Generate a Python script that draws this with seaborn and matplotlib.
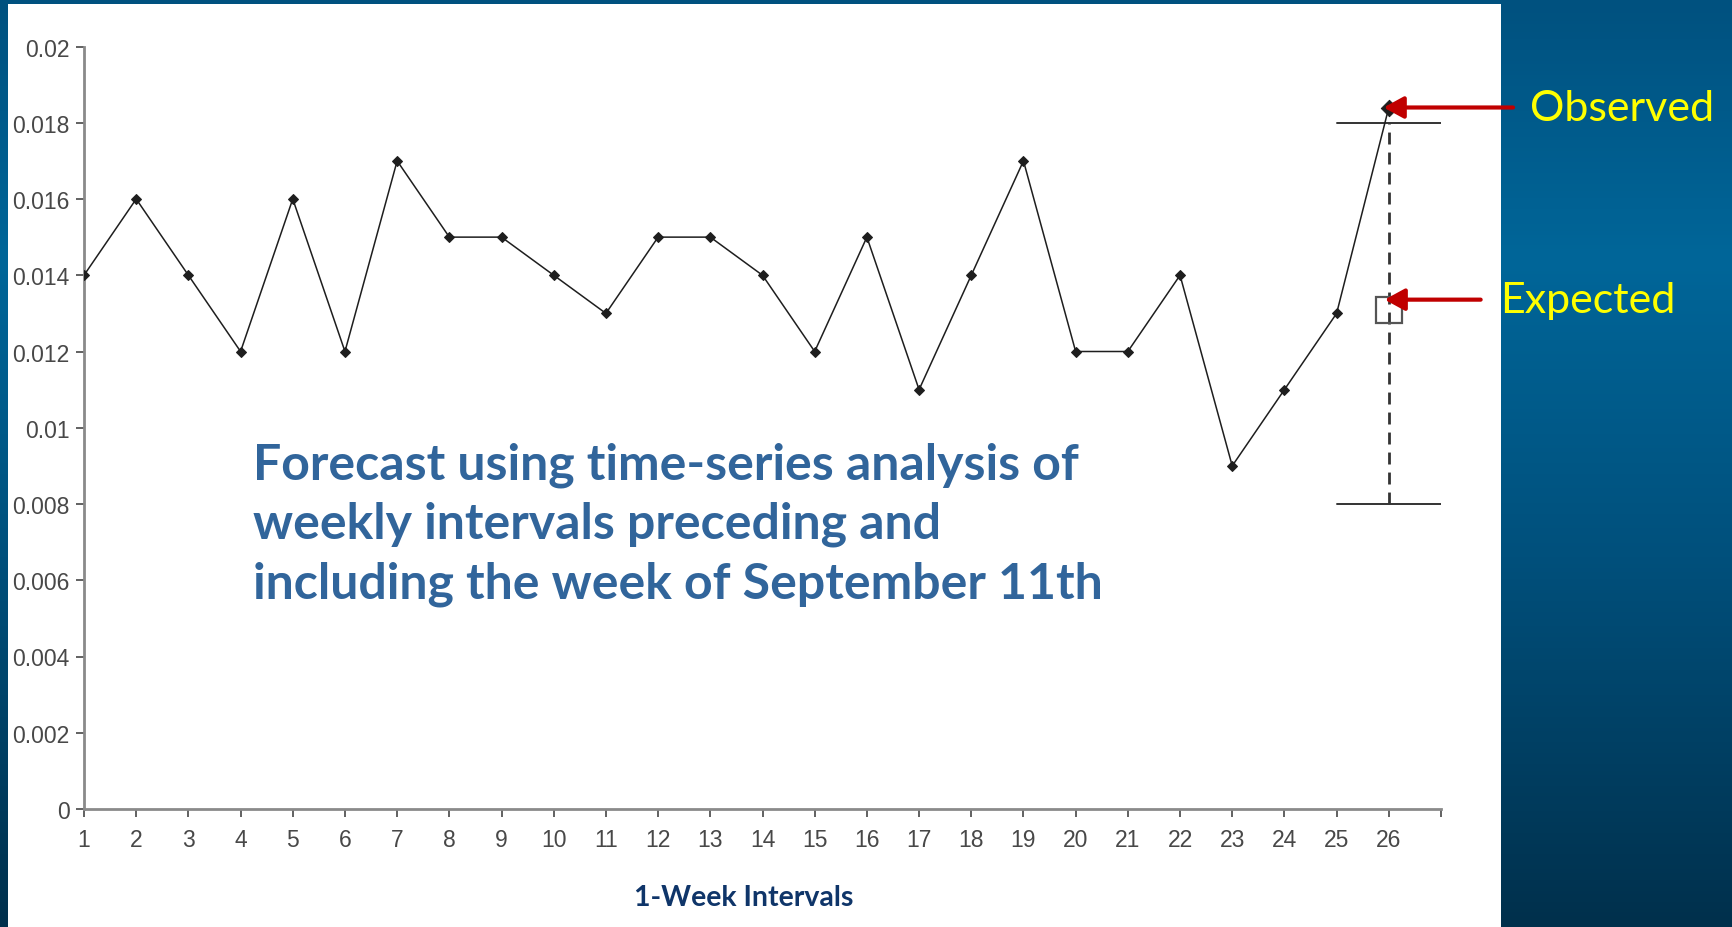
import numpy as np
import pandas as pd
import matplotlib
matplotlib.use("Agg")
import matplotlib.pyplot as plt
from matplotlib.colors import LinearSegmentedColormap
from matplotlib.patches import Rectangle
import seaborn as sns

# Weekly rates (weeks 1-26)
weeks = list(range(1, 27))
rates = [0.014, 0.016, 0.014, 0.012, 0.016, 0.012, 0.017, 0.015, 0.015, 0.014,
         0.013, 0.015, 0.015, 0.014, 0.012, 0.015, 0.011, 0.014, 0.017, 0.012,
         0.012, 0.014, 0.009, 0.011, 0.013, 0.0184]

# Forecast for week 26
forecast_week = 26
expected = 0.0131
upper_limit = 0.018
lower_limit = 0.008

y_ticks = [0, 0.002, 0.004, 0.006, 0.008, 0.01, 0.012, 0.014, 0.016, 0.018, 0.02]
y_tick_labels = ["0", "0.002", "0.004", "0.006", "0.008", "0.01", "0.012",
                 "0.014", "0.016", "0.018", "0.02"]
x_ticks = list(range(1, 28))
x_tick_labels = [str(w) for w in range(1, 27)] + [""]

sns.set_theme(style="white")
plt.rcParams["font.family"] = ["Liberation Sans", "DejaVu Sans"]

W, H = 1733, 928
fig = plt.figure(figsize=(W / 100, H / 100), dpi=100)

# slide background: vertical blue gradient
bg = fig.add_axes([0, 0, 1, 1], zorder=-10)
bg.set_axis_off()
cmap = LinearSegmentedColormap.from_list(
    "slide", [(0.0, "#00517f"), (0.28, "#006699"), (0.6, "#00507c"), (1.0, "#00304c")])
grad = np.linspace(0, 1, 256).reshape(-1, 1)
bg.imshow(grad, aspect="auto", cmap=cmap, extent=[0, 1, 0, 1], origin="upper")
bg.set_xlim(0, 1)
bg.set_ylim(0, 1)
# white panel holding the chart
bg.add_patch(Rectangle((8 / W, 0), (1501 - 8) / W, (H - 5) / H,
                       facecolor="white", edgecolor="none", zorder=2))

ax = fig.add_axes([84 / W, 118 / H, (1441 - 84) / W, (810 - 47.5) / H], zorder=1)
ax.set_facecolor("none")

df = pd.DataFrame({"week": weeks, "rate": rates})
sns.lineplot(data=df.iloc[:-1], x="week", y="rate", ax=ax, color="#1e1e1e",
             linewidth=1.1, marker="D", markersize=5, markeredgecolor="#1e1e1e",
             markerfacecolor="#1e1e1e", zorder=5)
sns.lineplot(data=df.iloc[-2:], x="week", y="rate", ax=ax, color="#1e1e1e",
             linewidth=1.1, zorder=5)
sns.scatterplot(x=[weeks[-1]], y=[rates[-1]], ax=ax, marker="D", s=70,
                color="#1e1e1e", edgecolor="#1e1e1e", zorder=6)

# forecast interval and expected value
ax.plot([forecast_week, forecast_week], [lower_limit, upper_limit], color="#333333",
        lw=2, linestyle=(0, (4.3, 2.9)), zorder=4)
ax.plot([forecast_week - 1, forecast_week + 1], [upper_limit, upper_limit],
        color="#333333", lw=1.4, zorder=4)
ax.plot([forecast_week - 1, forecast_week + 1], [lower_limit, lower_limit],
        color="#333333", lw=1.4, zorder=4)
ax.plot([forecast_week], [expected], marker="s", markersize=19, markerfacecolor="none",
        markeredgecolor="#555555", markeredgewidth=1.6, zorder=4)

ax.set_xlim(1, 27)
ax.set_ylim(0, 0.02)
ax.set_xticks(x_ticks)
ax.set_xticklabels(x_tick_labels)
ax.set_yticks(y_ticks)
ax.set_yticklabels(y_tick_labels)
ax.tick_params(axis="both", which="major", direction="out", length=6, width=1.3,
               color="#555555", labelcolor="#484848", labelsize=16.5, pad=8,
               bottom=True, left=True)
ax.tick_params(axis="y", pad=4.5)
for side in ("top", "right"):
    ax.spines[side].set_visible(False)
for side in ("left", "bottom"):
    ax.spines[side].set_color("#8a8a8a")
    ax.spines[side].set_linewidth(2)
ax.set_xlabel("1-Week Intervals", fontsize=20.5, fontweight="bold", color="#0f3569",
              family=["Lato", "DejaVu Sans"], labelpad=18)
ax.xaxis.set_label_coords(0.486, -0.098)
ax.set_ylabel("")

ax.text(4.24, 0.00965,
        "Forecast using time-series analysis of\nweekly intervals preceding and\n"
        "including the week of September 11th",
        fontsize=36, fontweight="bold", color="#31659b", family=["Lato", "DejaVu Sans"],
        va="top", ha="left", linespacing=1.38, zorder=7)

# callouts
arrow = dict(arrowstyle="-|>,head_length=0.55,head_width=0.3", color="#c00000",
             lw=3, shrinkA=0, shrinkB=0, mutation_scale=22)
ax.annotate("", xy=(25.9, rates[-1]), xytext=(28.38, rates[-1]),
            arrowprops=arrow, annotation_clip=False, zorder=8)
ax.annotate("", xy=(25.92, 0.01336), xytext=(27.76, 0.01336),
            arrowprops=arrow, annotation_clip=False, zorder=8)
ax.text(28.7, rates[-1], "Observed", color="#ffff00", fontsize=31,
        family=["Lato", "DejaVu Sans"], va="center", ha="left", clip_on=False)
ax.text(28.13, 0.01336, "Expected", color="#ffff00", fontsize=31,
        family=["Lato", "DejaVu Sans"], va="center", ha="left", clip_on=False)

fig.savefig("out.png", dpi=100)
